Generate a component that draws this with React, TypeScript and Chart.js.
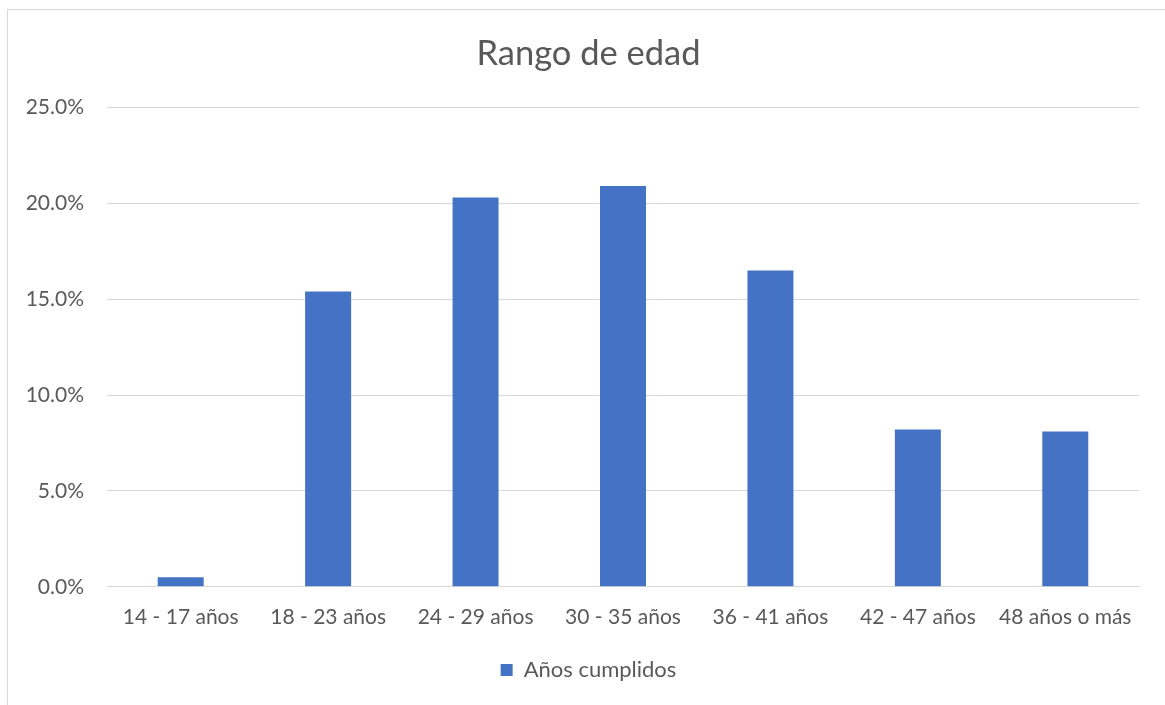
import React, { useEffect, useRef } from "react";
import { Chart, registerables } from "chart.js";

Chart.register(...registerables);

const categories = [
  "14 - 17 años",
  "18 - 23 años",
  "24 - 29 años",
  "30 - 35 años",
  "36 - 41 años",
  "42 - 47 años",
  "48 años o más",
];
const seriesName = "Años cumplidos";
const values = [0.5, 15.4, 20.3, 20.9, 16.5, 8.2, 8.1];
const chartTitle = "Rango de edad";

const FONT = "Lato, 'Open Sans', sans-serif";
const TEXT = "#595959";
const GRID = "#d9d9d9";
const W = 1184;
const H = 705;

const framePlugin = {
  id: "frame",
  beforeDraw(chart: any) {
    const ctx = chart.ctx;
    ctx.save();
    ctx.fillStyle = "#ffffff";
    ctx.fillRect(0, 0, chart.width, chart.height);
    ctx.strokeStyle = GRID;
    ctx.lineWidth = 1;
    ctx.beginPath();
    ctx.moveTo(7.5, chart.height);
    ctx.lineTo(7.5, 9.5);
    ctx.lineTo(chart.width, 9.5);
    ctx.stroke();
    ctx.restore();
  },
};

export default function App() {
  const ref = useRef<HTMLCanvasElement>(null);
  useEffect(() => {
    document.body.style.margin = "0";
    document.body.style.overflow = "hidden";
    const chart = new Chart(ref.current!, {
      type: "bar",
      data: {
        labels: categories,
        datasets: [
          {
            label: seriesName,
            data: values,
            backgroundColor: "#4472C4",
            borderWidth: 0,
            categoryPercentage: 1,
            barPercentage: 0.312,
          },
        ],
      },
      options: {
        animation: false,
        responsive: false,
        maintainAspectRatio: false,
        layout: { padding: { left: 38, right: 45, top: 33, bottom: 14 } },
        plugins: {
          title: {
            display: true,
            text: chartTitle,
            color: TEXT,
            font: { family: FONT, size: 34.5, weight: "normal", lineHeight: 1.2 },
            padding: { top: 0, bottom: 33 },
          },
          legend: {
            position: "bottom",
            labels: {
              color: TEXT,
              font: { family: FONT, size: 22 },
              boxWidth: 12,
              boxHeight: 12,
              padding: 11,
            },
          },
          tooltip: { enabled: false },
        },
        scales: {
          x: {
            grid: { display: false, drawTicks: false },
            border: { color: GRID },
            ticks: {
              color: TEXT,
              font: { family: FONT, size: 21 },
              padding: 18,
              maxRotation: 0,
            },
          },
          y: {
            min: 0,
            max: 25,
            grid: { color: GRID, drawTicks: false },
            border: { display: false },
            afterFit: (scale: any) => {
              scale.width = 69;
              // allow tick labels to extend left of the (narrowed) scale box
              scale._computeLabelArea = () => undefined;
            },
            ticks: {
              stepSize: 5,
              color: TEXT,
              font: { family: FONT, size: 21 },
              padding: 23,
              callback: (v: any) => Number(v).toFixed(1) + "%",
            },
          },
        },
      },
      plugins: [framePlugin],
    });
    return () => chart.destroy();
  }, []);
  return (
    <canvas
      ref={ref}
      width={W}
      height={H}
      style={{ position: "fixed", left: 0, top: 0, width: W, height: H, display: "block" }}
    />
  );
}
